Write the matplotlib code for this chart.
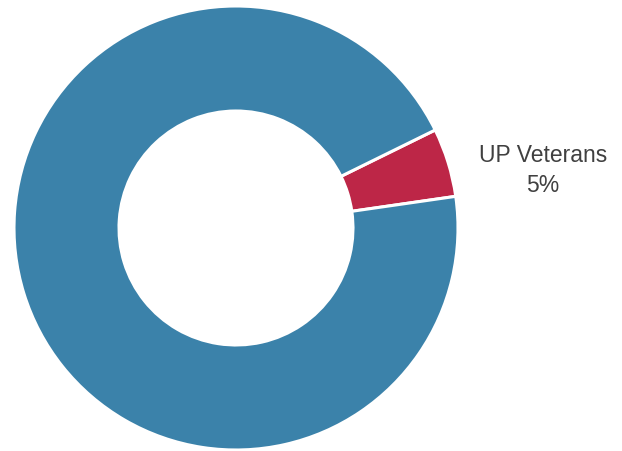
import matplotlib.pyplot as plt

# share of members
labels = ["UP Veterans", "Other"]
shares = [5, 95]
colors = ["#BD2647", "#3B82AA"]

plt.rcParams["font.family"] = ["Liberation Sans", "DejaVu Sans"]

fig = plt.figure(figsize=(6.22, 4.52), dpi=100)
ax = fig.add_axes([14 / 622, 1 / 452, 444 / 622, 444 / 452])

wedges, _ = ax.pie(shares, colors=colors, startangle=8.2, counterclock=True,
                   radius=1.0,
                   wedgeprops={"width": 0.473, "edgecolor": "white", "linewidth": 2.2})

ax.set_xlim(-1, 1)
ax.set_ylim(-1, 1)
ax.set_aspect("equal")
ax.axis("off")

ax.text(1.383, 0.262, "{}\n{}%".format(labels[0], shares[0]),
        ha="center", va="center", fontsize=16.5, color="#404040",
        linespacing=1.4, clip_on=False)

fig.savefig("out.png", dpi=100, facecolor="w")
